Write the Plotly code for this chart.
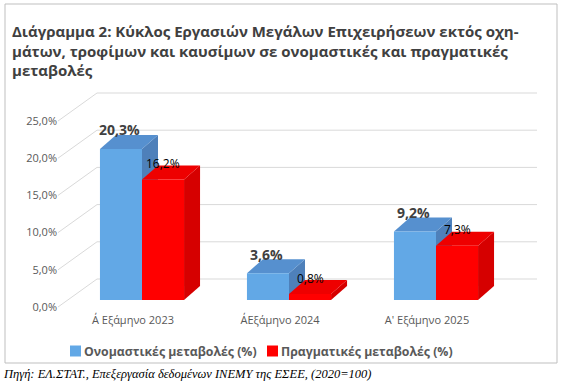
import plotly.graph_objects as go

categories = ["Α΄ Εξάμηνο 2023", "Α΄Εξάμηνο 2024", "Α' Εξάμηνο 2025"]
nominal = [20.3, 3.6, 9.2]
real = [16.2, 0.8, 7.3]
series_names = ["Ονομαστικές μεταβολές (%)", "Πραγματικές μεταβολές (%)"]
y_ticks = [0, 5, 10, 15, 20, 25]
title_lines = ["Διάγραμμα 2: Κύκλος Εργασιών Μεγάλων Επιχειρήσεων εκτός οχη-",
               "μάτων, τροφίμων και καυσίμων σε ονομαστικές και πραγματικές",
               "μεταβολές"]
source_text = "Πηγή: ΕΛ.ΣΤΑΤ., Επεξεργασία δεδομένων ΙΝΕΜΥ της ΕΣΕΕ, (2020=100)"

# ---- layout geometry (pixels) ----
W, H = 564, 387
L, R, T, B = 58, 540, 88, 312
pw, ph = R - L, B - T
cat_px = 147.0          # px per category
y_px = 7.44             # px per percent point
cat0_px = 142.0
zero_px = 300.0
xr = [-(cat0_px - L) / cat_px, (R - cat0_px) / cat_px]
yr = [-(B - zero_px) / y_px, (zero_px - T) / y_px]
lab_dy = 7 / y_px
xlab_dx = 9 / cat_px

bw = 0.286
dx = 16 / cat_px
dy = 14 / y_px
back_dy = 21 / y_px
back_x0 = (97 - cat0_px) / cat_px
back_x1 = (537 - cat0_px) / cat_px

blue_front, blue_top, blue_side = "#62A8E6", "#5690CF", "#4E80BA"
red_front, red_top, red_side = "#FF0000", "#EE0000", "#D60000"
grid_col = "#D9D9D9"
txt_gray = "#595959"
FONT = "Open Sans"

xpos = list(range(len(categories)))

def pc(v):
    return f"{v:.1f}".replace(".", ",") + "%"

fig = go.Figure()
fig.add_trace(go.Bar(x=xpos, y=nominal, name=series_names[0], marker_color=blue_front,
                     marker_line_width=0, offsetgroup="a", showlegend=False))
fig.add_trace(go.Bar(x=xpos, y=real, name=series_names[1], marker_color=red_front,
                     marker_line_width=0, offsetgroup="b", showlegend=False))
# invisible trace to carry label axes
fig.add_trace(go.Scatter(x=xpos, y=y_ticks[:3], xaxis="x2", yaxis="y2", mode="markers",
                         marker=dict(opacity=0), showlegend=False, hoverinfo="skip"))

shapes = []
# back wall gridlines + slanted side lines
for t in y_ticks:
    shapes.append(dict(type="line", xref="x", yref="y", x0=xr[0], y0=t - lab_dy,
                       x1=back_x0, y1=t + back_dy, line=dict(color=grid_col, width=1), layer="below"))
    shapes.append(dict(type="line", xref="x", yref="y", x0=back_x0, y0=t + back_dy,
                       x1=back_x1, y1=t + back_dy, line=dict(color=grid_col, width=1), layer="below"))

def faces(left, v, top_c, side_c):
    right = left + bw
    top = (f"M{left},{v} L{right},{v} L{right+dx},{v+dy} L{left+dx},{v+dy} Z")
    side = (f"M{right},0 L{right},{v} L{right+dx},{v+dy} L{right+dx},{dy} Z")
    return [dict(type="path", xref="x", yref="y", path=side, fillcolor=side_c,
                 line=dict(width=0), layer="below"),
            dict(type="path", xref="x", yref="y", path=top, fillcolor=top_c,
                 line=dict(width=0), layer="below")]

for i in xpos:
    shapes += faces(i - bw, nominal[i], blue_top, blue_side)
    shapes += faces(i, real[i], red_top, red_side)

def px2paper_x(p):
    return (p - L) / pw

def px2paper_y(p):
    return (B - p) / ph

# chart border
shapes.append(dict(type="rect", xref="paper", yref="paper",
                   x0=px2paper_x(5), x1=px2paper_x(557), y0=px2paper_y(363), y1=px2paper_y(4),
                   line=dict(color="#BFBFBF", width=1), fillcolor="rgba(0,0,0,0)", layer="below"))

annotations = []
for i in xpos:
    annotations.append(dict(x=i - bw / 2, y=nominal[i], xref="x", yref="y", text="<b>" + pc(nominal[i]) + "</b>",
                            showarrow=False, yshift=19, xshift=-1,
                            font=dict(family=FONT, size=14, color="#404040")))
    annotations.append(dict(x=i + bw / 2, y=real[i], xref="x", yref="y", text=pc(real[i]),
                            showarrow=False, yshift=16,
                            font=dict(family=FONT, size=12, color="#000000")))

# legend (square key + bold label), laid out at the bottom
legend_items = [(series_names[0], blue_front, 70), (series_names[1], red_front, 267)]
for name, col, lx in legend_items:
    shapes.append(dict(type="rect", xref="paper", yref="paper",
                       x0=px2paper_x(lx), x1=px2paper_x(lx + 11),
                       y0=px2paper_y(356.5), y1=px2paper_y(345.5),
                       fillcolor=col, line=dict(width=0)))
    annotations.append(dict(xref="paper", yref="paper", x=px2paper_x(lx + 12), y=px2paper_y(351),
                            xanchor="left", yanchor="middle", showarrow=False,
                            text="<b>" + name + "</b>",
                            font=dict(family=FONT, size=12.3, color=txt_gray)))

annotations.append(dict(xref="paper", yref="paper", x=px2paper_x(11), y=px2paper_y(20),
                        xanchor="left", yanchor="top", align="left", showarrow=False, borderpad=0,
                        text="<b>" + "<br>".join(title_lines) + "</b>",
                        font=dict(family=FONT, size=15, color="#404040")))
annotations.append(dict(xref="paper", yref="paper", x=px2paper_x(1), y=px2paper_y(374),
                        xanchor="left", yanchor="middle", showarrow=False,
                        text="<i>" + source_text + "</i>",
                        font=dict(family="Liberation Serif", size=12.5, color="#000000")))

fig.update_layout(
    width=W, height=H,
    margin=dict(l=L, r=W - R, t=T, b=H - B, pad=0, autoexpand=False),
    paper_bgcolor="white", plot_bgcolor="rgba(0,0,0,0)",
    barmode="group", bargap=1 - 2 * bw, bargroupgap=0,
    separators=",.",
    showlegend=False,
    xaxis=dict(range=xr, showticklabels=False, showgrid=False, zeroline=False, showline=False, ticks=""),
    yaxis=dict(range=yr, showticklabels=False, showgrid=False, zeroline=False, showline=False, ticks=""),
    xaxis2=dict(range=[xr[0] + xlab_dx, xr[1] + xlab_dx], overlaying="x", anchor="y2", side="bottom",
                tickmode="array", tickvals=xpos, ticktext=categories, showgrid=False, zeroline=False,
                showline=False, ticks="", automargin=False,
                tickfont=dict(family=FONT, size=11, color=txt_gray)),
    yaxis2=dict(range=[yr[0] + lab_dy, yr[1] + lab_dy], overlaying="y", anchor="x2", side="left",
                tickmode="array", tickvals=y_ticks, ticktext=[pc(t) for t in y_ticks],
                showgrid=False, zeroline=False, showline=False, ticks="", automargin=False,
                tickfont=dict(family=FONT, size=11, color=txt_gray)),
    shapes=shapes, annotations=annotations,
    font=dict(family=FONT),
)

fig.write_html("out.html", config={"displayModeBar": False},
               post_script="document.body.style.margin='0';document.body.style.overflow='hidden';")
